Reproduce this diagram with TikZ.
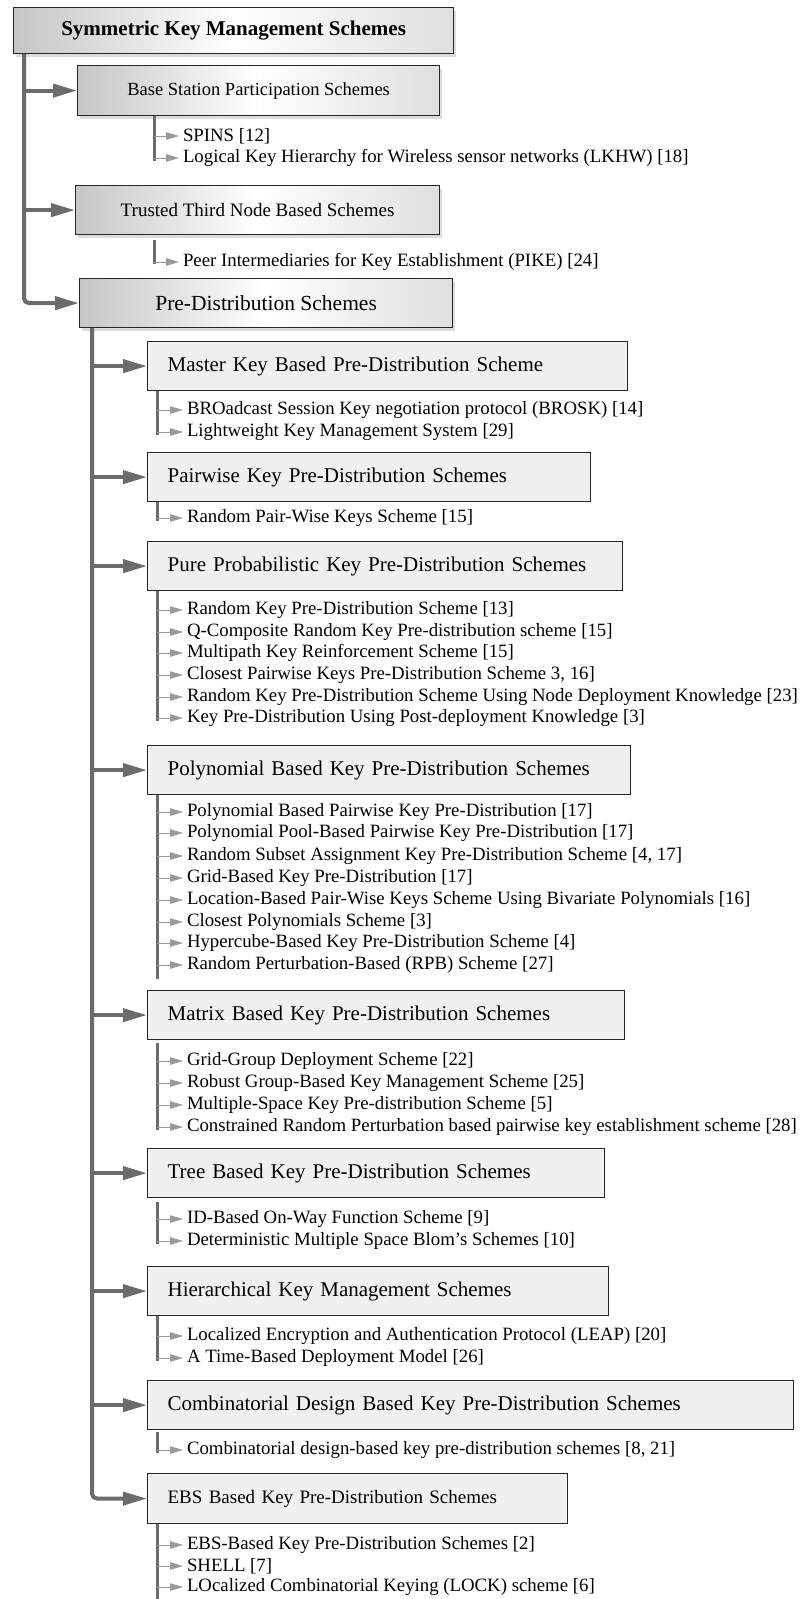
\documentclass[tikz,border=0pt]{standalone}
\usepackage{fontspec}
\setmainfont{Liberation Serif}
\usetikzlibrary{arrows.meta,shadows,calc}

\begin{document}
\begin{tikzpicture}[x=1pt, y=-1pt,
    topbox/.style={draw=black!85, line width=1.2pt, anchor=north west, inner sep=0pt,
        left color=gray!45, right color=gray!25, middle color=white,
        drop shadow={shadow xshift=2pt, shadow yshift=-3pt, fill=gray!55}},
    subbox/.style={draw=black!85, line width=1.2pt, fill=gray!12, anchor=north west,
        inner xsep=20pt, inner ysep=0pt, minimum height=49pt, align=left,
        font=\fontsize{21}{24}\selectfont},
    item/.style={anchor=west, inner sep=0pt, outer xsep=4pt, font=\fontsize{18.8}{21}\selectfont},
    trunk/.style={draw=black!58, line width=4pt, rounded corners=5pt, -{Triangle[length=24pt,width=13pt]}},
    rail/.style={draw=black!58, line width=3pt},
    leaf/.style={draw=black!40, line width=0.9pt, -{Triangle[length=13pt,width=7.5pt]}}]

    \useasboundingbox (0,0) rectangle (802,1599);
    \coordinate (trk1) at (24,0);
    \coordinate (trk2) at (92,0);
    \coordinate (rail1) at (154,0);
    \coordinate (rail2) at (157,0);

    \node[topbox, minimum width=440pt, minimum height=46pt, font=\fontsize{21}{24}\selectfont\bfseries] (root) at (13,7) {Symmetric Key Management Schemes};
    \node[topbox, minimum width=362pt, minimum height=50pt, font=\fontsize{18.5}{22}\selectfont] (bs) at (77,65) {Base Station Participation Schemes};
    \node[topbox, minimum width=364pt, minimum height=49pt, font=\fontsize{19}{22}\selectfont] (ttn) at (75,185) {Trusted Third Node Based Schemes};
    \node[topbox, minimum width=373pt, minimum height=49pt, font=\fontsize{21.5}{24}\selectfont] (pre) at (79,278) {Pre-Distribution Schemes};

    \draw[trunk] (root.south -| trk1) -- (pre.west -| trk1) -- (pre.west);
    \draw[trunk] (bs.west -| trk1) -- (bs.west);
    \draw[trunk] (ttn.west -| trk1) -- (ttn.west);

    \node[item] (spins) at (179,136) {SPINS [12]};
    \node[item] (lkhw) at (179,158) {Logical Key Hierarchy for Wireless sensor networks (LKHW) [18]};
    \draw[rail] (bs.south -| rail1) -- ($(lkhw.west -| rail1)+(0,3)$);
    \draw[leaf] (spins.west -| rail1) -- (spins.west);
    \draw[leaf] (lkhw.west -| rail1) -- (lkhw.west);

    \node[item] (pike) at (179,262) {Peer Intermediaries for Key Establishment (PIKE) [24]};
    \draw[rail] ($(ttn.south -| rail1)+(0,5)$) -- ($(pike.west -| rail1)+(0,2)$);
    \draw[leaf] (pike.west -| rail1) -- (pike.west);

    \node[subbox, text width=440pt] (master) at (147,341) {Master Key Based Pre-Distribution Scheme};
    \node[subbox, text width=403pt] (pairwise) at (147,452) {Pairwise Key Pre-Distribution Schemes};
    \node[subbox, text width=435pt] (pure) at (147,541) {Pure Probabilistic Key Pre-Distribution Schemes};
    \node[subbox, text width=443pt] (poly) at (147,745) {Polynomial Based Key Pre-Distribution Schemes};
    \node[subbox, text width=437pt] (matrix) at (147,990) {Matrix Based Key Pre-Distribution Schemes};
    \node[subbox, text width=417pt] (tree) at (147,1148) {Tree Based Key Pre-Distribution Schemes};
    \node[subbox, text width=421pt] (hier) at (147,1266) {Hierarchical Key Management Schemes};
    \node[subbox, text width=606pt] (comb) at (147,1380) {Combinatorial Design Based Key Pre-Distribution Schemes};
    \node[subbox, text width=380pt, minimum height=50pt, font=\fontsize{19}{22}\selectfont] (ebs) at (147,1473) {EBS Based Key Pre-Distribution Schemes};

    \draw[trunk] (pre.south -| trk2) -- (ebs.west -| trk2) -- (ebs.west);
    \draw[trunk] (master.west -| trk2) -- (master.west);
    \draw[trunk] (pairwise.west -| trk2) -- (pairwise.west);
    \draw[trunk] (pure.west -| trk2) -- (pure.west);
    \draw[trunk] (poly.west -| trk2) -- (poly.west);
    \draw[trunk] (matrix.west -| trk2) -- (matrix.west);
    \draw[trunk] (tree.west -| trk2) -- (tree.west);
    \draw[trunk] (hier.west -| trk2) -- (hier.west);
    \draw[trunk] (comb.west -| trk2) -- (comb.west);

    \node[item] (brosk) at (183,410) {BROadcast Session Key negotiation protocol (BROSK) [14]};
    \node[item] (lkms) at (183,432) {Lightweight Key Management System [29]};
    \draw[rail] (master.south -| rail2) -- ($(lkms.west -| rail2)+(0,3)$);
    \draw[leaf] (brosk.west -| rail2) -- (brosk.west);
    \draw[leaf] (lkms.west -| rail2) -- (lkms.west);

    \node[item] (rpwk) at (183,518) {Random Pair-Wise Keys Scheme [15]};
    \draw[rail] (pairwise.south -| rail2) -- ($(rpwk.west -| rail2)+(0,3)$);
    \draw[leaf] (rpwk.west -| rail2) -- (rpwk.west);

    \node[item] (rkp) at (183,610) {Random Key Pre-Distribution Scheme [13]};
    \node[item] (qcomp) at (183,632) {Q-Composite Random Key Pre-distribution scheme [15]};
    \node[item] (mpath) at (183,653) {Multipath Key Reinforcement Scheme [15]};
    \node[item] (cpk) at (183,675) {Closest Pairwise Keys Pre-Distribution Scheme 3, 16]};
    \node[item] (rkpnd) at (183,697) {Random Key Pre-Distribution Scheme Using Node Deployment Knowledge [23]};
    \node[item] (kppd) at (183,718) {Key Pre-Distribution Using Post-deployment Knowledge [3]};
    \draw[rail] (pure.south -| rail2) -- ($(kppd.west -| rail2)+(0,3)$);
    \draw[leaf] (rkp.west -| rail2) -- (rkp.west);
    \draw[leaf] (qcomp.west -| rail2) -- (qcomp.west);
    \draw[leaf] (mpath.west -| rail2) -- (mpath.west);
    \draw[leaf] (cpk.west -| rail2) -- (cpk.west);
    \draw[leaf] (rkpnd.west -| rail2) -- (rkpnd.west);
    \draw[leaf] (kppd.west -| rail2) -- (kppd.west);

    \node[item] (pbpk) at (183,812) {Polynomial Based Pairwise Key Pre-Distribution [17]};
    \node[item] (ppbk) at (183,833) {Polynomial Pool-Based Pairwise Key Pre-Distribution [17]};
    \node[item] (rsak) at (183,856) {Random Subset Assignment Key Pre-Distribution Scheme [4, 17]};
    \node[item] (gbk) at (183,878) {Grid-Based Key Pre-Distribution [17]};
    \node[item] (lbpw) at (183,900) {Location-Based Pair-Wise Keys Scheme Using Bivariate Polynomials [16]};
    \node[item] (cps) at (183,922) {Closest Polynomials Scheme [3]};
    \node[item] (hbk) at (183,943) {Hypercube-Based Key Pre-Distribution Scheme [4]};
    \node[item] (rpb) at (183,965) {Random Perturbation-Based (RPB) Scheme [27]};
    \draw[rail] (poly.south -| rail2) -- ($(rpb.west -| rail2)+(0,14)$);
    \draw[leaf] (pbpk.west -| rail2) -- (pbpk.west);
    \draw[leaf] (ppbk.west -| rail2) -- (ppbk.west);
    \draw[leaf] (rsak.west -| rail2) -- (rsak.west);
    \draw[leaf] (gbk.west -| rail2) -- (gbk.west);
    \draw[leaf] (lbpw.west -| rail2) -- (lbpw.west);
    \draw[leaf] (cps.west -| rail2) -- (cps.west);
    \draw[leaf] (hbk.west -| rail2) -- (hbk.west);
    \draw[leaf] (rpb.west -| rail2) -- (rpb.west);

    \node[item] (ggd) at (183,1061) {Grid-Group Deployment Scheme [22]};
    \node[item] (rgbk) at (183,1083) {Robust Group-Based Key Management Scheme [25]};
    \node[item] (mskp) at (183,1105) {Multiple-Space Key Pre-distribution Scheme [5]};
    \node[item] (crp) at (183,1127) {Constrained Random Perturbation based pairwise key establishment scheme [28]};
    \draw[rail] ($(matrix.south -| rail2)+(0,3)$) -- ($(crp.west -| rail2)+(0,3)$);
    \draw[leaf] (ggd.west -| rail2) -- (ggd.west);
    \draw[leaf] (rgbk.west -| rail2) -- (rgbk.west);
    \draw[leaf] (mskp.west -| rail2) -- (mskp.west);
    \draw[leaf] (crp.west -| rail2) -- (crp.west);

    \node[item] (idow) at (183,1219) {ID-Based On-Way Function Scheme [9]};
    \node[item] (dmsb) at (183,1241) {Deterministic Multiple Space Blom's Schemes [10]};
    \draw[rail] ($(tree.south -| rail2)+(0,4)$) -- ($(dmsb.west -| rail2)+(0,3)$);
    \draw[leaf] (idow.west -| rail2) -- (idow.west);
    \draw[leaf] (dmsb.west -| rail2) -- (dmsb.west);

    \node[item] (leap) at (183,1336) {Localized Encryption and Authentication Protocol (LEAP) [20]};
    \node[item] (tbdm) at (183,1358) {A Time-Based Deployment Model [26]};
    \draw[rail] (hier.south -| rail2) -- ($(tbdm.west -| rail2)+(0,3)$);
    \draw[leaf] (leap.west -| rail2) -- (leap.west);
    \draw[leaf] (tbdm.west -| rail2) -- (tbdm.west);

    \node[item] (cdk) at (183,1450) {Combinatorial design-based key pre-distribution schemes [8, 21]};
    \draw[rail] ($(comb.south -| rail2)+(0,2)$) -- ($(cdk.west -| rail2)+(0,3)$);
    \draw[leaf] (cdk.west -| rail2) -- (cdk.west);

    \node[item] (ebsk) at (183,1545) {EBS-Based Key Pre-Distribution Schemes [2]};
    \node[item] (shell) at (183,1566) {SHELL [7]};
    \node[item] (lock) at (183,1587) {LOcalized Combinatorial Keying (LOCK) scheme [6]};
    \draw[rail] (ebs.south -| rail2) -- ($(lock.west -| rail2)+(0,12)$);
    \draw[leaf] (ebsk.west -| rail2) -- (ebsk.west);
    \draw[leaf] (shell.west -| rail2) -- (shell.west);
    \draw[leaf] (lock.west -| rail2) -- (lock.west);
\end{tikzpicture}
\end{document}
